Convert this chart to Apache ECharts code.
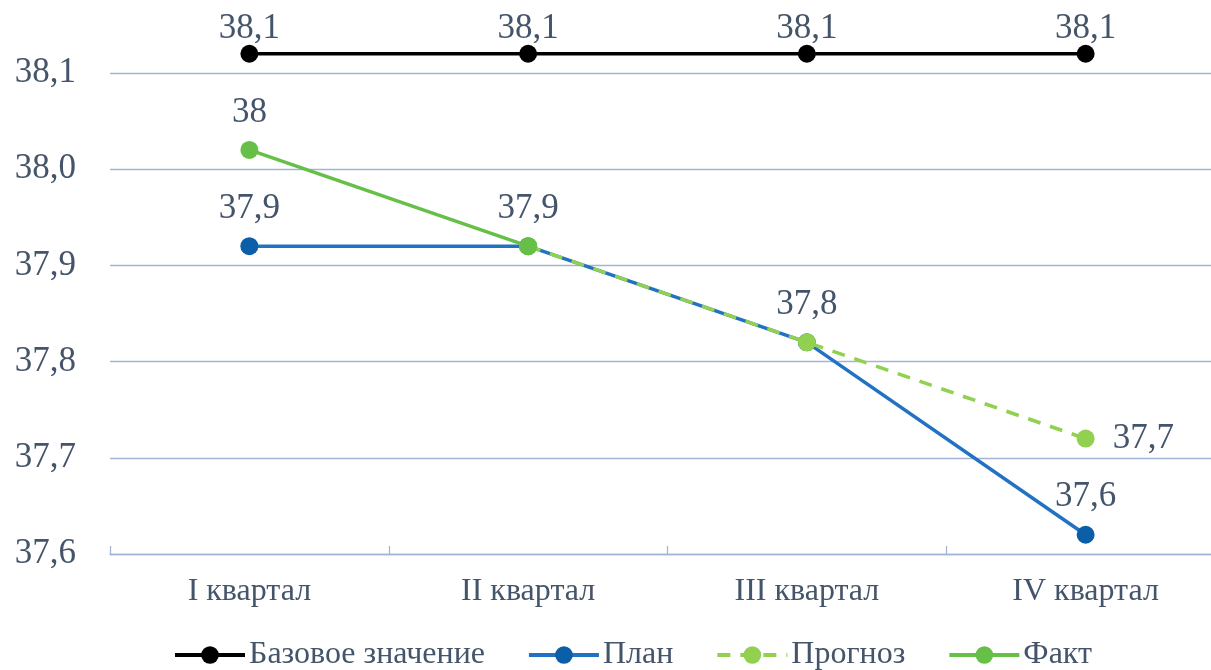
<!DOCTYPE html>
<html>
<head>
<meta charset="utf-8">
<script src="https://cdn.jsdelivr.net/npm/echarts@6/dist/echarts.min.js"></script>
<style>
html,body{margin:0;padding:0;background:#fff;overflow:hidden;width:1211px;height:670px;}
#chart{width:1225px;height:670px;}
</style>
</head>
<body>
<div id="chart"></div>
<script>
const categories = ['I квартал', 'II квартал', 'III квартал', 'IV квартал'];
const baseValues = [38.12, 38.12, 38.12, 38.12];
const planValues = [37.92, 37.92, 37.82, 37.62];
const forecastValues = [null, 37.92, 37.82, 37.72];
const factValues = [38.02, 37.92, null, null];
const seriesNames = ['Базовое значение', 'План', 'Прогноз', 'Факт'];
const yTicks = [37.6, 37.7, 37.8, 37.9, 38.0, 38.1];

const planLabelShow = [true, true, true, true];
const forecastLabelShow = [false, false, false, true];
const factLabelShow = [true, false, false, false];

const FONT = '"Liberation Serif", "Times New Roman", serif';
const TXT = '#44546A';
const GRID = '#A3B4D6';

function fmt(v) {
  return String(Number(v.toFixed(1))).replace('.', ',');
}
function withLabels(values, shows) {
  return values.map((v, i) => v == null ? null : ({ value: v, label: { show: shows[i] } }));
}
const labelStyle = {
  show: true, position: 'top', distance: 11,
  fontFamily: FONT, fontSize: 35, color: TXT,
  formatter: p => fmt(p.value)
};

const chart = echarts.init(document.getElementById('chart'), null, { renderer: 'canvas' });
chart.setOption({
  animation: false,
  backgroundColor: '#fff',
  grid: { left: 110, top: 73, right: 0, height: 481, containLabel: false },
  xAxis: {
    type: 'category',
    data: categories,
    boundaryGap: true,
    axisLine: { show: true, lineStyle: { color: GRID, width: 1.3 } },
    axisTick: { show: true, inside: true, length: 8, alignWithLabel: false, lineStyle: { color: GRID, width: 1.3 } },
    axisLabel: { fontFamily: FONT, fontSize: 32, color: TXT, margin: 22 },
    splitLine: { show: false }
  },
  yAxis: {
    type: 'value',
    min: yTicks[0],
    max: yTicks[yTicks.length - 1],
    interval: 0.1,
    axisLine: { show: false },
    axisTick: { show: false },
    axisLabel: { fontFamily: FONT, fontSize: 35, color: TXT, margin: 34, formatter: v => v.toFixed(1).replace('.', ',') },
    splitLine: { show: true, lineStyle: { color: GRID, width: 1.3 } }
  },
  legend: {
    left: 173, top: 639, padding: 0,
    itemWidth: 70, itemHeight: 22, itemGap: 42,
    lineStyle: { width: 4 },
    textStyle: { fontFamily: FONT, fontSize: 32, color: TXT, padding: [0, 0, 0, -1] },
    data: seriesNames
  },
  series: [
    {
      name: seriesNames[0], type: 'line', data: baseValues, clip: false,
      symbol: 'circle', symbolSize: 18,
      lineStyle: { color: '#000', width: 3.5 }, itemStyle: { color: '#000' },
      label: Object.assign({}, labelStyle, { distance: -2 }), z: 5
    },
    {
      name: seriesNames[1], type: 'line', data: withLabels(planValues, planLabelShow), clip: false,
      symbol: 'circle', symbolSize: 18,
      lineStyle: { color: '#2272C3', width: 3.5 }, itemStyle: { color: '#0B5EA8' },
      label: labelStyle, z: 2
    },
    {
      name: seriesNames[2], type: 'line', data: withLabels(forecastValues, forecastLabelShow), clip: false,
      symbol: 'circle', symbolSize: 18,
      lineStyle: { color: '#92D050', width: 3.5, type: [13, 10] }, itemStyle: { color: '#92D050' },
      label: Object.assign({}, labelStyle, { position: 'right', distance: 18 }), z: 3
    },
    {
      name: seriesNames[3], type: 'line', data: withLabels(factValues, factLabelShow), clip: false,
      symbol: 'circle', symbolSize: 18,
      lineStyle: { color: '#66BF47', width: 3.5 }, itemStyle: { color: '#66BF47' },
      label: labelStyle, z: 4
    }
  ]
});
</script>
</body>
</html>
